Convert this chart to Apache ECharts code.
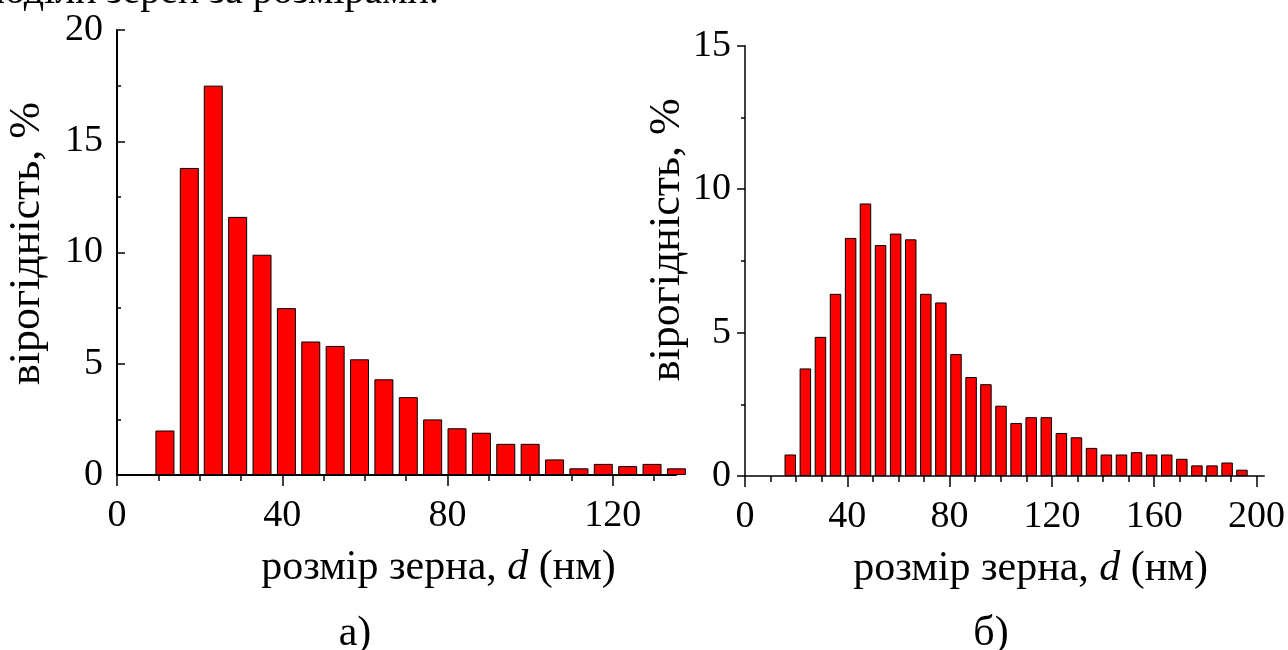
<!DOCTYPE html>
<html>
<head>
<meta charset="utf-8">
<script src="https://cdn.jsdelivr.net/npm/echarts@6/dist/echarts.min.js"></script>
<style>
html,body{margin:0;padding:0;background:#fff;}
#c{width:1288px;height:650px;}
</style>
</head>
<body>
<div id="c"></div>
<script>
// ---- data ----
const leftBinCenters = [11.6, 17.5, 23.3, 29.2, 35.1, 41.0, 46.9, 52.8, 58.7, 64.6, 70.5, 76.4, 82.3, 88.2, 94.1, 100.0, 105.9, 111.8, 117.7, 123.6, 129.5, 135.4];
const leftProb = [2.0, 13.8, 17.5, 11.6, 9.9, 7.5, 6.0, 5.8, 5.2, 4.3, 3.5, 2.5, 2.1, 1.9, 1.4, 1.4, 0.7, 0.3, 0.5, 0.4, 0.5, 0.3];

const rightBinCenters = [17.7, 23.6, 29.5, 35.4, 41.3, 47.1, 53.0, 58.9, 64.8, 70.7, 76.6, 82.5, 88.4, 94.2, 100.1, 106.0, 111.9, 117.8, 123.7, 129.6, 135.5, 141.3, 147.2, 153.1, 159.0, 164.9, 170.8, 176.7, 182.6, 188.5, 194.3];
const rightProb = [0.75, 3.75, 4.85, 6.35, 8.3, 9.5, 8.05, 8.45, 8.25, 6.35, 6.05, 4.25, 3.45, 3.2, 2.45, 1.85, 2.05, 2.05, 1.5, 1.35, 0.98, 0.75, 0.75, 0.83, 0.75, 0.75, 0.6, 0.37, 0.37, 0.47, 0.22];

const leftXMajorTicks = [0, 40, 80, 120];
const leftXMinorTicks = [10, 20, 30, 50, 60, 70, 90, 100, 110, 130];
const rightXMajorTicks = [0, 40, 80, 120, 160, 200];
const rightXMinorTicks = [10, 20, 30, 50, 60, 70, 90, 100, 110, 130, 140, 150, 170, 180, 190];

const yTitle = 'вірогідність, %';
const xTitle = 'розмір зерна, {i|d} (нм)';
const captions = ['а)', 'б)'];
const topLine = 'розподіли зерен за розмірами.';

// ---- chart ----
const FONT = "'Liberation Serif', 'Times New Roman', serif";
const tickFont = 38;
const xTitleFont = 42;
const yTitleFont = 44;
const black = '#000';

function majorX(gridIndex, max, ticks, padLeft, lineW) {
  return {
    type: 'value', gridIndex: gridIndex, position: 'bottom', min: 0, max: max,
    axisLine: {show: true, onZero: false, lineStyle: {color: black, width: lineW}},
    axisTick: {show: true, inside: false, length: 11, customValues: ticks, lineStyle: {color: black, width: 1.5}},
    axisLabel: {show: true, customValues: ticks, margin: 22, color: black, fontFamily: FONT, fontSize: tickFont},
    splitLine: {show: false},
    name: xTitle, nameLocation: 'middle', nameGap: 72,
    nameTextStyle: {color: black, fontFamily: FONT, fontSize: xTitleFont, padding: [0, 0, 0, padLeft],
      rich: {i: {fontStyle: 'italic', fontFamily: FONT, fontSize: xTitleFont, color: black}}}
  };
}
function minorX(gridIndex, max, ticks) {
  return {
    type: 'value', gridIndex: gridIndex, position: 'bottom', min: 0, max: max,
    axisLine: {show: false, onZero: false},
    axisTick: {show: true, inside: false, length: 6, customValues: ticks, lineStyle: {color: black, width: 1.5}},
    axisLabel: {show: false},
    splitLine: {show: false}
  };
}
function yAx(gridIndex, max, inside, nameGap, padLeft, lineW) {
  return {
    type: 'value', gridIndex: gridIndex, min: 0, max: max, interval: 5,
    axisLine: {show: true, onZero: false, lineStyle: {color: black, width: lineW}},
    axisTick: {show: true, inside: inside, length: 8, lineStyle: {color: black, width: 1.5}},
    minorTick: {show: true, splitNumber: 2, length: 4, lineStyle: {color: black, width: 1.5}},
    axisLabel: {margin: 14, color: black, fontFamily: FONT, fontSize: tickFont},
    splitLine: {show: false},
    name: yTitle, nameLocation: 'middle', nameGap: nameGap,
    nameTextStyle: {color: black, fontFamily: FONT, fontSize: yTitleFont, padding: [0, 0, 0, padLeft]}
  };
}

const chart = echarts.init(document.getElementById('c'), null, {renderer: 'canvas'});
chart.setOption({
  animation: false,
  backgroundColor: '#fff',
  grid: [
    {left: 117, top: 30, width: 559, height: 445},
    {left: 745, top: 45.7, width: 520, height: 430.3}
  ],
  xAxis: [
    majorX(0, 135.3, leftXMajorTicks, 84, 2),
    minorX(0, 135.3, leftXMinorTicks),
    majorX(1, 203, rightXMajorTicks, 52, 1.5),
    minorX(1, 203, rightXMinorTicks)
  ],
  yAxis: [
    yAx(0, 20, true, 68, 18, 2),
    yAx(1, 15, false, 54, 42, 1.5)
  ],
  series: [
    {
      type: 'bar', xAxisIndex: 0, yAxisIndex: 0, barWidth: 19, clip: true,
      itemStyle: {color: '#ff0000', borderColor: black, borderWidth: 1},
      data: leftBinCenters.map((x, i) => [x, leftProb[i]])
    },
    {
      type: 'bar', xAxisIndex: 2, yAxisIndex: 1, barWidth: 11.5, clip: true,
      itemStyle: {color: '#ff0000', borderColor: black, borderWidth: 1},
      data: rightBinCenters.map((x, i) => [x, rightProb[i]])
    }
  ],
  graphic: [
    {type: 'text', x: 439, y: 12, style: {text: topLine, fill: black, font: '40px ' + FONT, align: 'right', verticalAlign: 'bottom'}},
    {type: 'text', x: 355, y: 634, style: {text: captions[0], fill: black, font: xTitleFont + 'px ' + FONT, align: 'center', verticalAlign: 'middle'}},
    {type: 'text', x: 991, y: 634, style: {text: captions[1], fill: black, font: xTitleFont + 'px ' + FONT, align: 'center', verticalAlign: 'middle'}}
  ]
});
</script>
</body>
</html>
